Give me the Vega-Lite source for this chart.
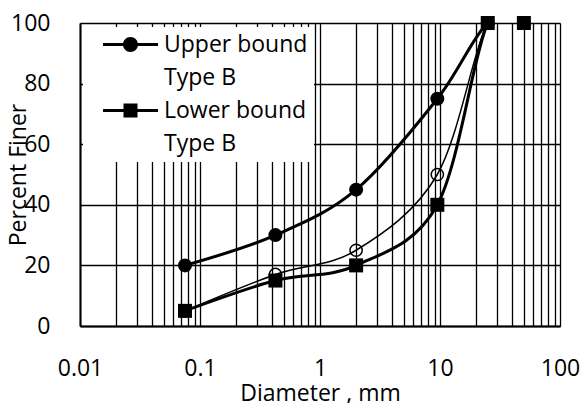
{
  "$schema": "https://vega.github.io/schema/vega-lite/v6.json",
  "width": 480,
  "height": 303,
  "autosize": "none",
  "padding": {"left": 80, "top": 23, "right": 22, "bottom": 77},
  "background": "white",
  "config": {
    "font": "Open Sans",
    "view": {"stroke": null},
    "axis": {
      "domainColor": "black",
      "domainWidth": 2,
      "gridColor": "black",
      "gridWidth": 1.3,
      "gridOpacity": 1,
      "ticks": false,
      "tickSize": 0,
      "labelColor": "black",
      "labelFontSize": 23,
      "labelFont": "Open Sans",
      "titleFont": "Open Sans",
      "titleFontSize": 23,
      "titleFontWeight": "normal",
      "titleColor": "black",
      "labelFlush": false,
      "labelOverlap": false,
      "labelBound": false
    }
  },
  "data": {
    "values": [
      {"series": "Upper bound Type B", "d": 0.075, "p": 20},
      {"series": "Upper bound Type B", "d": 0.425, "p": 30},
      {"series": "Upper bound Type B", "d": 2, "p": 45},
      {"series": "Upper bound Type B", "d": 9.5, "p": 75},
      {"series": "Upper bound Type B", "d": 25, "p": 100},
      {"series": "Upper bound Type B", "d": 50, "p": 100},
      {"series": "Sample", "d": 0.075, "p": 5},
      {"series": "Sample", "d": 0.425, "p": 17},
      {"series": "Sample", "d": 2, "p": 25},
      {"series": "Sample", "d": 9.5, "p": 50},
      {"series": "Sample", "d": 25, "p": 100},
      {"series": "Sample", "d": 50, "p": 100},
      {"series": "Lower bound Type B", "d": 0.075, "p": 5},
      {"series": "Lower bound Type B", "d": 0.425, "p": 15},
      {"series": "Lower bound Type B", "d": 2, "p": 20},
      {"series": "Lower bound Type B", "d": 9.5, "p": 40},
      {"series": "Lower bound Type B", "d": 25, "p": 100},
      {"series": "Lower bound Type B", "d": 50, "p": 100}
    ]
  },
  "encoding": {
    "x": {
      "field": "d",
      "type": "quantitative",
      "scale": {"type": "log", "domain": [0.01, 100], "nice": false},
      "axis": {
        "title": "Diameter , mm",
        "grid": true,
        "values": [0.01, 0.02, 0.03, 0.04, 0.05, 0.06, 0.07, 0.08, 0.09, 0.1, 0.2, 0.3, 0.4, 0.5, 0.6, 0.7, 0.8, 0.9, 1, 2, 3, 4, 5, 6, 7, 8, 9, 10, 20, 30, 40, 50, 60, 70, 80, 90, 100],
        "format": "~g",
        "labelExpr": "indexof([0.01, 0.1, 1, 10, 100], datum.value) >= 0 ? datum.label : ''",
        "labelPadding": 31,
        "titlePadding": 2
      }
    },
    "y": {
      "field": "p",
      "type": "quantitative",
      "scale": {"domain": [0, 100], "nice": false},
      "axis": {
        "title": "Percent Finer",
        "grid": true,
        "values": [0, 20, 40, 60, 80, 100],
        "labelPadding": 30,
        "titlePadding": -20
      }
    }
  },
  "layer": [
    {
      "transform": [{"filter": "datum.series == 'Upper bound Type B'"}],
      "mark": {"type": "line", "interpolate": "cardinal", "color": "black", "strokeWidth": 3, "clip": true}
    },
    {
      "transform": [{"filter": "datum.series == 'Sample'"}],
      "mark": {"type": "line", "interpolate": "cardinal", "color": "black", "strokeWidth": 1.5, "clip": true}
    },
    {
      "transform": [{"filter": "datum.series == 'Lower bound Type B'"}],
      "mark": {"type": "line", "interpolate": "cardinal", "color": "black", "strokeWidth": 3, "clip": true}
    },
    {
      "transform": [{"filter": "datum.series == 'Upper bound Type B'"}],
      "mark": {"type": "point", "shape": "circle", "filled": true, "size": 196, "color": "black", "opacity": 1}
    },
    {
      "transform": [{"filter": "datum.series == 'Sample'"}],
      "mark": {"type": "point", "shape": "circle", "filled": false, "size": 150, "color": "black", "strokeWidth": 1.5, "opacity": 1}
    },
    {
      "transform": [{"filter": "datum.series == 'Lower bound Type B'"}],
      "mark": {"type": "point", "shape": "square", "filled": true, "size": 196, "color": "black", "opacity": 1}
    },
    {
      "transform": [{"filter": "datum.p < 0"}],
      "mark": {"type": "point", "filled": true, "color": "black", "opacity": 1, "size": 400},
      "encoding": {
        "shape": {
          "field": "series",
          "scale": {
            "domain": ["Upper bound", "Type B", "Lower bound", "Type B "],
            "range": [
              "M-2.75,-0.16H2.75V0.16H-2.75ZM0.75,0A0.75,0.75 0 1 1 -0.75,0A0.75,0.75 0 1 1 0.75,0Z",
              "M0,0",
              "M-2.75,-0.16H2.75V0.16H-2.75ZM-0.7,-0.7H0.7V0.7H-0.7Z",
              "M0,0"
            ]
          },
          "legend": {
            "title": null,
            "orient": "none",
            "legendX": 3,
            "legendY": 4,
            "fillColor": "white",
            "padding": 6,
            "symbolSize": 400,
            "symbolOffset": 30,
            "labelOffset": 22,
            "labelFontSize": 23,
            "labelColor": "black",
            "labelLimit": 400,
            "rowPadding": 9,
            "symbolFillColor": "black",
            "symbolStrokeWidth": 0,
            "symbolOpacity": 1
          }
        }
      }
    }
  ]
}
